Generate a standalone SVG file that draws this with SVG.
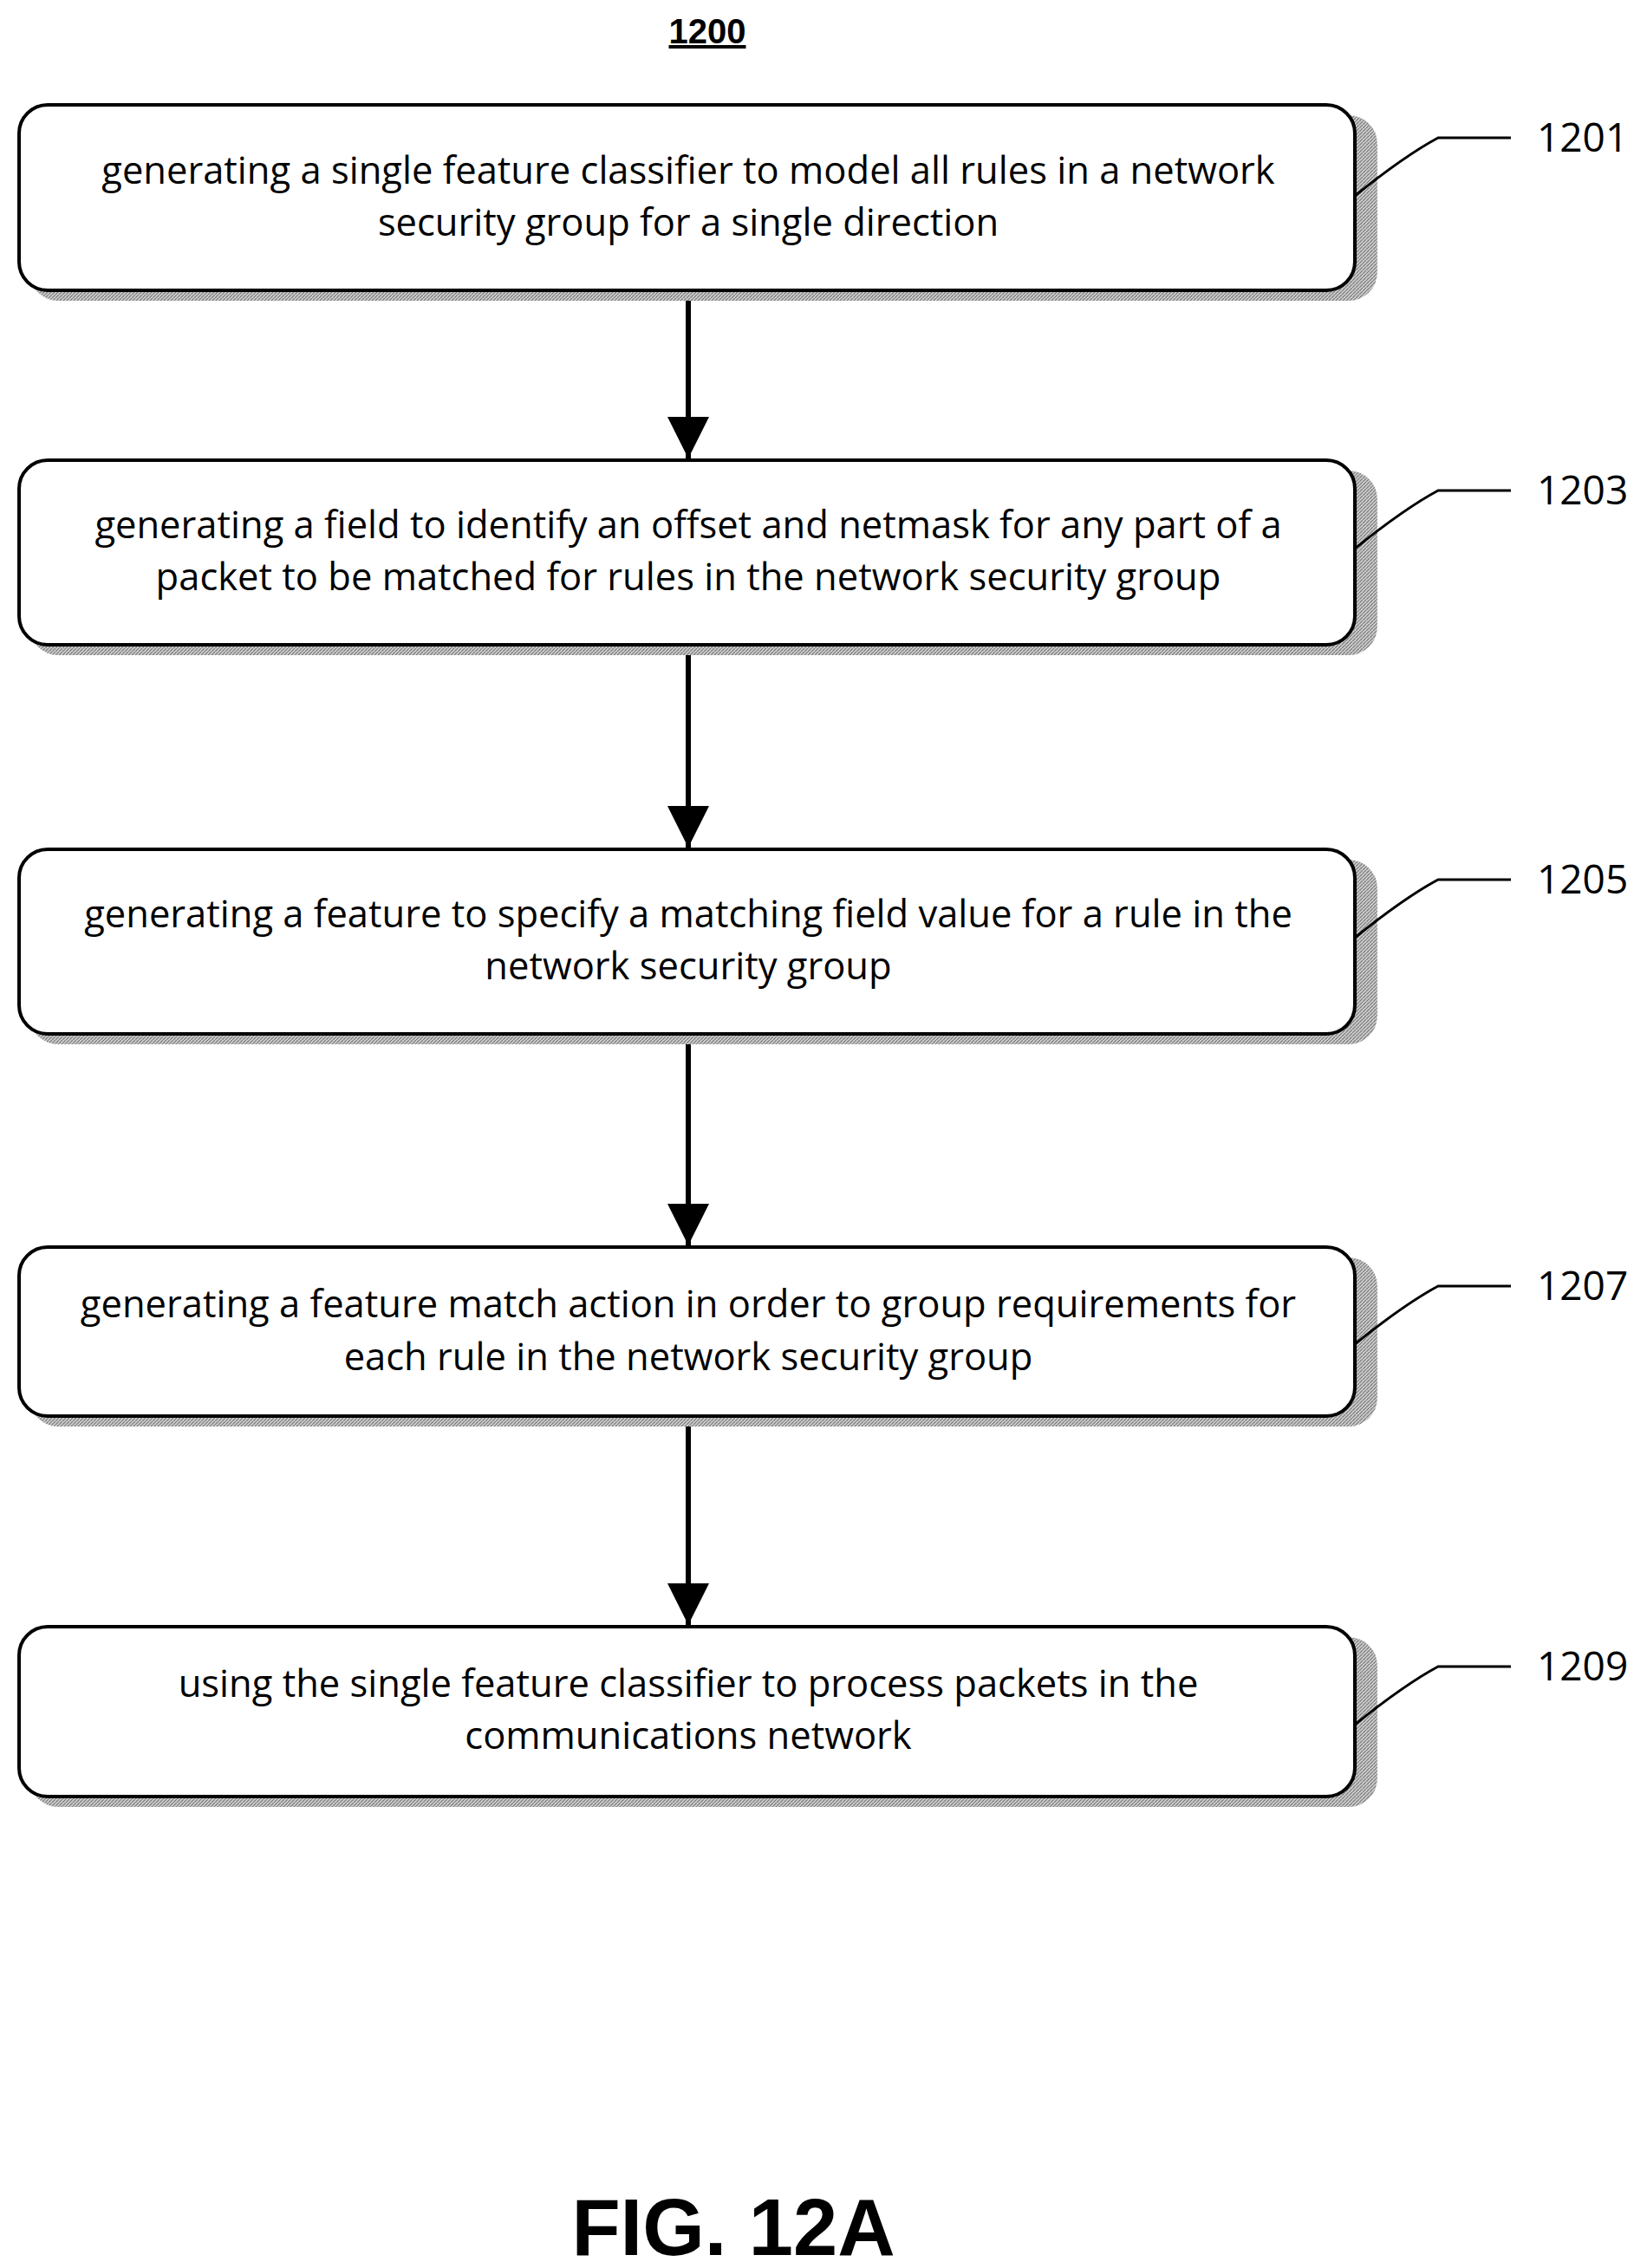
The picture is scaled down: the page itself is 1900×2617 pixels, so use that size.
<svg xmlns="http://www.w3.org/2000/svg" width="1900" height="2617" viewBox="0 0 1900 2617">
<style>
.box{fill:#fff;stroke:#000;stroke-width:4}
.sh{fill:url(#hatch)}
.t{font-family:"Open Sans","Liberation Sans",sans-serif;font-size:43.5px;text-anchor:middle;fill:#000}
.lb{font-family:"Open Sans","Liberation Sans",sans-serif;font-size:46px;fill:#000}
.ld{fill:none;stroke:#000;stroke-width:3}
.ar{stroke:#000;stroke-width:6}
</style>
<defs>
<pattern id="hatch" width="4" height="4" patternUnits="userSpaceOnUse"><rect width="4" height="4" fill="#ccc"/><path d="M0 4L4 0" stroke="#777" stroke-width="1.2"/></pattern>
<marker id="ah" markerWidth="8" markerHeight="8" refX="8" refY="4" orient="auto" markerUnits="strokeWidth"><path d="M0 0L8 4L0 8z" fill="#000"/></marker>
</defs>
<text x="816" y="50" font-family="Liberation Sans,sans-serif" font-weight="bold" font-size="40" text-anchor="middle" text-decoration="underline">1200</text>
<g id="connectors">
<line class="ar" x1="794" y1="335" x2="794" y2="529" marker-end="url(#ah)"/>
<line class="ar" x1="794" y1="744" x2="794" y2="978" marker-end="url(#ah)"/>
<line class="ar" x1="794" y1="1193" x2="794" y2="1437" marker-end="url(#ah)"/>
<line class="ar" x1="794" y1="1634" x2="794" y2="1875" marker-end="url(#ah)"/>
</g>
<g id="n1201"><rect class="sh" x="34" y="133" width="1555" height="214" rx="33"/><rect class="box" x="22" y="121" width="1541" height="214" rx="33"/>
<text class="t" x="794" y="212">generating a single feature classifier to model all rules in a network</text><text class="t" x="794" y="272">security group for a single direction</text>
<path class="ld" d="M1563 226Q1620 180 1659 159H1743"/><text class="lb" x="1773" y="175">1201</text></g>
<g id="n1203"><rect class="sh" x="34" y="543" width="1555" height="213" rx="33"/><rect class="box" x="22" y="531" width="1541" height="213" rx="33"/>
<text class="t" x="794" y="621">generating a field to identify an offset and netmask for any part of a</text><text class="t" x="794" y="681">packet to be matched for rules in the network security group</text>
<path class="ld" d="M1563 633Q1620 587 1659 566H1743"/><text class="lb" x="1773" y="582">1203</text></g>
<g id="n1205"><rect class="sh" x="34" y="992" width="1555" height="213" rx="33"/><rect class="box" x="22" y="980" width="1541" height="213" rx="33"/>
<text class="t" x="794" y="1070">generating a feature to specify a matching field value for a rule in the</text><text class="t" x="794" y="1130">network security group</text>
<path class="ld" d="M1563 1082Q1620 1036 1659 1015H1743"/><text class="lb" x="1773" y="1031">1205</text></g>
<g id="n1207"><rect class="sh" x="34" y="1451" width="1555" height="195" rx="33"/><rect class="box" x="22" y="1439" width="1541" height="195" rx="33"/>
<text class="t" x="794" y="1520">generating a feature match action in order to group requirements for</text><text class="t" x="794" y="1581">each rule in the network security group</text>
<path class="ld" d="M1563 1551Q1620 1505 1659 1484H1743"/><text class="lb" x="1773" y="1500">1207</text></g>
<g id="n1209"><rect class="sh" x="34" y="1889" width="1555" height="196" rx="33"/><rect class="box" x="22" y="1877" width="1541" height="196" rx="33"/>
<text class="t" x="794" y="1958">using the single feature classifier to process packets in the</text><text class="t" x="794" y="2018">communications network</text>
<path class="ld" d="M1563 1990Q1620 1944 1659 1923H1743"/><text class="lb" x="1773" y="1939">1209</text></g>
<text x="846" y="2602" font-family="Liberation Sans,sans-serif" font-weight="bold" font-size="92" text-anchor="middle">FIG. 12A</text>
</svg>
